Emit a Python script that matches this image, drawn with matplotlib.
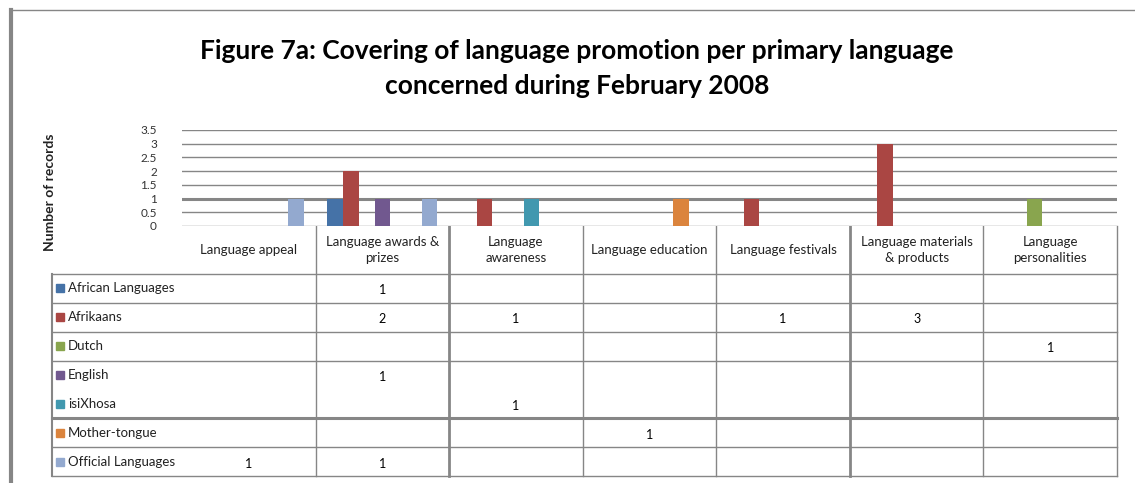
import numpy as np
import matplotlib.pyplot as plt
from matplotlib import transforms

plt.rcParams['font.family'] = ['Lato', 'DejaVu Sans']

categories = ['Language appeal', 'Language awards &\nprizes', 'Language\nawareness',
              'Language education', 'Language festivals',
              'Language materials\n& products', 'Language\npersonalities']
series_names = ['African Languages', 'Afrikaans', 'Dutch', 'English',
                'isiXhosa', 'Mother-tongue', 'Official Languages']
african_languages = [0, 1, 0, 0, 0, 0, 0]
afrikaans = [0, 2, 1, 0, 1, 3, 0]
dutch = [0, 0, 0, 0, 0, 0, 1]
english = [0, 1, 0, 0, 0, 0, 0]
isixhosa = [0, 0, 1, 0, 0, 0, 0]
mother_tongue = [0, 0, 0, 1, 0, 0, 0]
official_languages = [1, 1, 0, 0, 0, 0, 0]
yticks = [0, 0.5, 1, 1.5, 2, 2.5, 3, 3.5]

series = [african_languages, afrikaans, dutch, english,
          isixhosa, mother_tongue, official_languages]
colors = ['#4572A7', '#AA4643', '#89A54E', '#71588F', '#4198AF', '#DB843D', '#93A9CF']
grid_c = '#868686'

W, H = 1135, 483
fig = plt.figure(figsize=(W / 100, H / 100), dpi=100)


def fy(y):
    return 1 - y / H


# plot area in pixel layout
ax = fig.add_axes([182 / W, fy(226), (1117 - 182) / W, (226 - 130) / H])
x = np.arange(len(categories))
bw = 1 / 8.5
for i, (vals, c) in enumerate(zip(series, colors)):
    ax.bar(x + (i - 3) * bw, vals, width=bw, color=c, linewidth=0, zorder=3)

ax.set_xlim(-0.5, len(categories) - 0.5)
ax.set_ylim(0, 3.5)
ax.set_yticks(yticks)
ax.set_yticklabels([f'{t:g}' for t in yticks], fontsize=8.5, color='#333333')
ax.set_xticks([])
ax.tick_params(axis='y', length=0, pad=18)
for t in yticks:
    ax.axhline(t, color=grid_c, lw=2.2 if t == 1 else 1.0, zorder=1)
for s in ax.spines.values():
    s.set_visible(False)

# overlay in pixel coordinates for frame and data table
ov = fig.add_axes([0, 0, 1, 1], zorder=-1)
ov.set_xlim(0, W)
ov.set_ylim(H, 0)
ov.axis('off')
bl = transforms.blended_transform_factory(ax.transData, ov.transData)

# chart frame
ov.plot([11, 11], [10, H], color=grid_c, lw=3)
ov.plot([11, W], [10, 10], color=grid_c, lw=1)

# title
fig.text(577 / W, fy(51), 'Figure 7a: Covering of language promotion per primary language',
         ha='center', va='center', fontsize=19, fontweight='bold')
fig.text(577 / W, fy(86), 'concerned during February 2008',
         ha='center', va='center', fontsize=19, fontweight='bold')

fig.text(50 / W, fy(192), 'Number of records', rotation=90, ha='center', va='center',
         fontsize=10, fontweight='bold', color='#222222')

# table layout
tbl_left, head_top, body_top, row_h = 52, 226, 274, (476 - 274) / 7
edges = body_top + row_h * np.arange(len(series_names) + 1)

for k, e in enumerate(edges):
    if k == 4:
        continue  # English / isiXhosa drawn as one cell
    ov.plot([tbl_left, 1117], [e, e], color=grid_c, lw=2.2 if k == 5 else 1.0)
ov.plot([tbl_left, tbl_left], [body_top, edges[-1]], color=grid_c, lw=1.5)
for j in range(len(categories)):
    xb = j + 0.5
    lw = 2.0 if j in (1, 4) else 1.0
    ov.plot([xb, xb], [head_top, edges[-1]], color=grid_c, lw=lw, transform=bl)

for j, cat in enumerate(categories):
    ov.text(j, (head_top + body_top) / 2, cat, transform=bl, ha='center', va='center',
            fontsize=9.5, color='#222222', linespacing=1.4)

for r, (name, vals, c) in enumerate(zip(series_names, series, colors)):
    yc = (edges[r] + edges[r + 1]) / 2
    ov.add_patch(plt.Rectangle((56, yc - 4), 8, 8, color=c))
    ov.text(68, yc, name, ha='left', va='center', fontsize=9.5, color='#222222')
    for j, v in enumerate(vals):
        if v:
            ov.text(j, yc + 2, str(v), transform=bl, ha='center', va='center',
                    fontsize=9, color='black')

fig.savefig('out.png', dpi=100)
